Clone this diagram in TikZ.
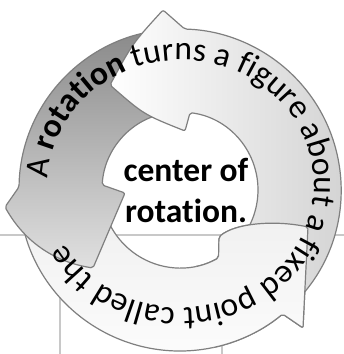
\documentclass[tikz,border=0pt]{standalone}
\usepackage{fontspec}
\setmainfont{Carlito}
\usetikzlibrary{decorations.text}
\definecolor{gridc}{HTML}{C8C8C8}
\definecolor{edgec}{HTML}{7F7F7F}
\newcommand\arcfont{\fontsize{33.5}{40}\selectfont}
\begin{document}
\begin{tikzpicture}[x=1pt,y=1pt,
  gridline/.style={draw=gridc,line width=1.5pt},
  arrowshape/.style={draw=edgec,line width=1.2pt,line join=round,rounded corners=2pt},
  topfill/.style={left color=white,right color=black!18},
  darkfill/.style={top color=black!46,middle color=black!42,bottom color=black!12},
  botfill/.style={top color=black!6,bottom color=black!1},
  ctext/.style={font=\fontsize{33.5}{40}\selectfont\bfseries,inner sep=0pt}]
\useasboundingbox (0,0) rectangle (344,354);
% background table lines
\draw[gridline] (0,119) -- (344,119);
\draw[gridline] (60,119) -- (60,0);
\draw[gridline] (222,119) -- (222,0);
\def\toparrowpath{(-55:78) -- (-42:161) arc[start angle=-42,end angle=88.3,radius=161] -- (-17,180) .. controls (-47.5,146.5) .. (-70,105) .. controls (-36.4,75.6) .. (5,59) -- (82.6:78) arc[start angle=82.6,end angle=-55,radius=78] -- cycle}
\def\darkarrowpath{(102:78) -- (98:161) arc[start angle=98,end angle=178.9,radius=161] -- (-175,-17) .. controls (-155.6,-51.5) and (-126.2,-71.9) .. (-87,-78) -- (-55,-3) -- (176.3:78) arc[start angle=176.3,end angle=102,radius=78] -- cycle}
\def\bottomarrowpath{(192:78) -- (188:161) arc[start angle=188,end angle=309.6,radius=161] -- (123,-138) -- (128,-37) .. controls (95,-30) and (55,-33) .. (39,-47) -- (299.6:78) arc[start angle=299.6,end angle=192,radius=78] -- cycle}
\begin{scope}[shift={(180,164)}]
  \path[arrowshape,botfill] \bottomarrowpath;
  \path[arrowshape,darkfill] \darkarrowpath;
  \path[arrowshape,topfill] \toparrowpath;
  \begin{scope}
    \clip (0,0) -- (-78:260) -- (-40:260) -- (-3:260) -- cycle;
    \path[arrowshape,botfill] \bottomarrowpath;
  \end{scope}
\end{scope}
% text along the ring
\path[decorate,decoration={text along path,text align={fit to path},
  text={|\arcfont|A |\arcfont\bfseries|rotation|\arcfont\mdseries| turns a figure about a fixed point called the}}]
  (181,170) ++(177.5:133 and 124) arc[start angle=177.5,end angle=-151.2,x radius=133,y radius=124];
% centre text
\node[ctext,anchor=base] (c1) at (186,172) {center of};
\node[ctext,anchor=base] (c2) at (186,131) {rotat\kern0pt ion.};
\end{tikzpicture}
\end{document}
